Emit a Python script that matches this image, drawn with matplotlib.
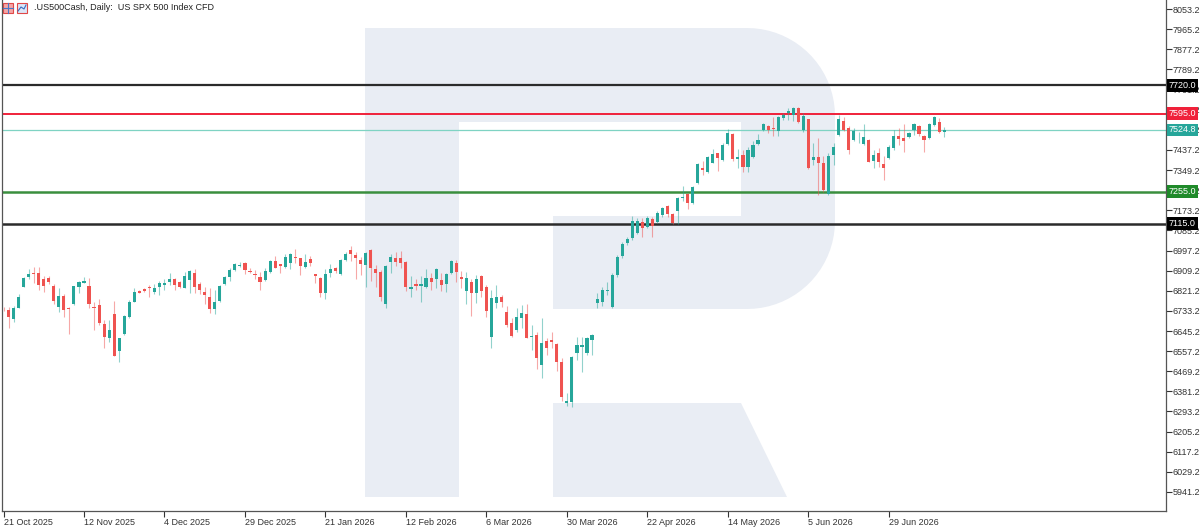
import numpy as np
import matplotlib
matplotlib.use('Agg')
import matplotlib.pyplot as plt
from matplotlib.patches import Polygon, Rectangle
import matplotlib.transforms as mtransforms

plt.rcParams['font.family'] = ['Liberation Sans', 'DejaVu Sans']

# daily candles .US500Cash, 21 Oct 2025 .. mid Jul 2026
opens = [6743, 6737, 6696, 6747, 6839, 6880, 6899, 6898, 6873, 6876,
         6843, 6749, 6798, 6747, 6762, 6839, 6856, 6843, 6752, 6759,
         6675, 6616, 6718, 6559, 6632, 6708, 6773, 6820, 6828, 6838,
         6817, 6836, 6848, 6858, 6873, 6861, 6835, 6868, 6898, 6849,
         6815, 6793, 6741, 6776, 6851, 6883, 6912, 6929, 6944, 6908,
         6896, 6883, 6868, 6902, 6951, 6937, 6924, 6944, 6970, 6963,
         6924, 6959, 6894, 6876, 6813, 6898, 6922, 6893, 6956, 6999,
         6978, 6956, 6934, 6999, 6915, 6905, 6763, 6948, 6963, 6963,
         6948, 6828, 6851, 6842, 6839, 6878, 6873, 6868, 6849, 6900,
         6941, 6883, 6821, 6861, 6813, 6886, 6836, 6620, 6766, 6793,
         6730, 6679, 6650, 6701, 6720, 6620, 6628, 6497, 6602, 6606,
         6588, 6511, 6329, 6333, 6550, 6577, 6547, 6606, 6766, 6773,
         6820, 6752, 6890, 6973, 7031, 7052, 7075, 7123, 7099, 7134,
         7123, 7152, 7192, 7157, 7170, 7228, 7243, 7204, 7294, 7359,
         7342, 7381, 7422, 7393, 7462, 7507, 7396, 7415, 7364, 7406,
         7462, 7524, 7542, 7534, 7520, 7575, 7597, 7590, 7619, 7524,
         7571, 7393, 7404, 7378, 7244, 7415, 7502, 7565, 7535, 7480,
         7510, 7463, 7480, 7390, 7422, 7376, 7400, 7444, 7498, 7488,
         7492, 7524, 7542, 7498, 7488, 7546, 7560, 7514]
highs = [6750, 6752, 6756, 6807, 6883, 6916, 6927, 6927, 6887, 6887,
         6849, 6832, 6806, 6749, 6843, 6864, 6880, 6876, 6773, 6784,
         6693, 6693, 6776, 6616, 6715, 6781, 6832, 6825, 6832, 6846,
         6849, 6864, 6871, 6898, 6876, 6865, 6902, 6912, 6916, 6861,
         6839, 6832, 6825, 6846, 6886, 6919, 6941, 6948, 6946, 6919,
         6912, 6902, 6922, 6956, 6973, 6939, 6982, 6985, 7004, 6965,
         6982, 6973, 6896, 6880, 6915, 6938, 6927, 6959, 6989, 7017,
         6992, 6968, 6992, 7003, 6934, 6912, 6934, 6982, 6992, 6996,
         6951, 6886, 6871, 6886, 6915, 6900, 6922, 6898, 6900, 6956,
         6956, 6908, 6905, 6871, 6890, 6890, 6846, 6825, 6846, 6803,
         6756, 6701, 6745, 6759, 6763, 6671, 6642, 6701, 6613, 6642,
         6592, 6526, 6373, 6535, 6620, 6620, 6620, 6632, 6810, 6839,
         6861, 6898, 6978, 7036, 7058, 7148, 7139, 7139, 7148, 7145,
         7171, 7189, 7196, 7160, 7230, 7278, 7250, 7279, 7379, 7389,
         7410, 7440, 7425, 7466, 7527, 7512, 7440, 7437, 7451, 7477,
         7507, 7556, 7546, 7582, 7585, 7597, 7619, 7623, 7624, 7600,
         7574, 7466, 7488, 7410, 7422, 7466, 7590, 7582, 7542, 7532,
         7514, 7550, 7483, 7437, 7444, 7410, 7458, 7524, 7532, 7550,
         7517, 7556, 7546, 7502, 7553, 7585, 7575, 7539]
lows = [6732, 6657, 6683, 6744, 6836, 6873, 6854, 6825, 6815, 6849,
        6762, 6727, 6708, 6631, 6759, 6813, 6854, 6745, 6650, 6671,
        6570, 6599, 6536, 6508, 6627, 6701, 6771, 6810, 6817, 6793,
        6807, 6803, 6825, 6846, 6825, 6835, 6832, 6810, 6810, 6807,
        6763, 6725, 6720, 6771, 6846, 6865, 6909, 6927, 6893, 6898,
        6871, 6825, 6865, 6898, 6919, 6898, 6919, 6915, 6944, 6890,
        6919, 6929, 6856, 6793, 6785, 6883, 6898, 6890, 6953, 6953,
        6871, 6890, 6839, 6865, 6839, 6778, 6747, 6900, 6929, 6919,
        6821, 6793, 6825, 6773, 6832, 6825, 6832, 6821, 6815, 6894,
        6858, 6832, 6762, 6711, 6766, 6795, 6708, 6570, 6745, 6752,
        6664, 6620, 6642, 6657, 6613, 6562, 6478, 6438, 6540, 6570,
        6472, 6340, 6318, 6314, 6518, 6467, 6540, 6540, 6745, 6755,
        6803, 6745, 6883, 6963, 7021, 7045, 7071, 7055, 7094, 7055,
        7119, 7145, 7145, 7113, 7115, 7214, 7177, 7201, 7288, 7327,
        7337, 7378, 7346, 7390, 7458, 7390, 7357, 7340, 7342, 7400,
        7458, 7521, 7510, 7497, 7498, 7568, 7568, 7565, 7553, 7517,
        7352, 7371, 7240, 7254, 7240, 7371, 7498, 7521, 7419, 7477,
        7466, 7458, 7384, 7357, 7364, 7306, 7396, 7437, 7458, 7429,
        7488, 7502, 7498, 7427, 7483, 7543, 7512, 7495]
closes = [6740, 6705, 6745, 6795, 6878, 6894, 6893, 6846, 6843, 6861,
          6778, 6800, 6737, 6740, 6842, 6858, 6863, 6762, 6745, 6679,
          6620, 6648, 6537, 6613, 6711, 6771, 6817, 6813, 6821, 6832,
          6832, 6856, 6856, 6873, 6846, 6839, 6887, 6908, 6839, 6825,
          6803, 6741, 6773, 6842, 6883, 6912, 6937, 6935, 6912, 6902,
          6889, 6861, 6908, 6951, 6922, 6929, 6970, 6981, 6966, 6929,
          6948, 6941, 6886, 6810, 6893, 6915, 6908, 6956, 6982, 6982,
          6963, 6938, 6985, 6919, 6900, 6795, 6929, 6968, 6946, 6944,
          6836, 6836, 6842, 6849, 6878, 6861, 6916, 6846, 6893, 6953,
          6905, 6873, 6876, 6813, 6873, 6821, 6734, 6788, 6795, 6771,
          6671, 6625, 6708, 6725, 6616, 6625, 6528, 6592, 6570, 6596,
          6511, 6358, 6340, 6530, 6583, 6584, 6613, 6628, 6784, 6825,
          6825, 6890, 6970, 7024, 7046, 7128, 7126, 7094, 7139, 7104,
          7163, 7182, 7155, 7116, 7226, 7232, 7204, 7274, 7374, 7349,
          7405, 7419, 7400, 7458, 7512, 7396, 7407, 7364, 7437, 7458,
          7480, 7550, 7522, 7528, 7580, 7590, 7609, 7619, 7560, 7585,
          7357, 7405, 7378, 7260, 7410, 7451, 7574, 7526, 7437, 7521,
          7512, 7495, 7386, 7415, 7386, 7359, 7451, 7498, 7483, 7477,
          7512, 7550, 7507, 7480, 7550, 7582, 7517, 7524.8]

date_labels = ['21 Oct 2025', '12 Nov 2025', '4 Dec 2025', '29 Dec 2025',
               '21 Jan 2026', '12 Feb 2026', '6 Mar 2026', '30 Mar 2026',
               '22 Apr 2026', '14 May 2026', '5 Jun 2026', '29 Jun 2026']
bars_per_label = 16

levels = [7720.0, 7595.0, 7524.8, 7255.0, 7115.0]
level_colors = ['#2b2b2b', '#f0213a', '#7fd3c3', '#3a8f3e', '#2b2b2b']
level_box = ['#000000', '#f0213a', '#26a69a', '#1f8a2a', '#000000']
level_lw = [1.6, 1.4, 0.9, 1.8, 1.8]

bull = '#26a69a'
bear = '#ef5350'
logo = '#e9edf4'

W, H = 1200, 527
fig = plt.figure(figsize=(W / 100, H / 100), dpi=100)

# background layer in pixel coords: watermark logo + header icons
bg = fig.add_axes([0, 0, 1, 1])
bg.set_xlim(0, W)
bg.set_ylim(H, 0)
bg.axis('off')

bg.add_patch(Rectangle((365, 28), 94, 469, fc=logo, ec='none'))
r = 88
t1 = np.linspace(-np.pi / 2, 0, 20)
t2 = np.linspace(0, np.pi / 2, 20)
bowl = [(459, 28), (747, 28)]
bowl += [(747 + r * np.cos(t), 28 + r + r * np.sin(t)) for t in t1]
bowl += [(747 + r * np.cos(t), 309 - r + r * np.sin(t)) for t in t2]
bowl += [(553, 309), (553, 216), (741, 216), (741, 122), (459, 122)]
bg.add_patch(Polygon(bowl, closed=True, fc=logo, ec='none'))
bg.add_patch(Polygon([(553, 403), (741, 403), (787, 497), (553, 497)],
                     closed=True, fc=logo, ec='none'))

# small header icons
bg.add_patch(Rectangle((3, 3), 10, 10, fc='#f4a6a6', ec='#e04848', lw=0.8))
bg.plot([3, 13], [8, 8], color='#4a78c8', lw=0.8)
bg.plot([8, 8], [3, 13], color='#4a78c8', lw=0.8)
bg.add_patch(Rectangle((17, 3), 10, 10, fc='#dbe6f7', ec='#e04848', lw=0.8))
bg.plot([18, 21, 24, 26], [11, 7, 9, 5], color='#3a6cc0', lw=0.8)
fig.text(34 / W, 1 - 8 / H, '.US500Cash, Daily:  US SPX 500 Index CFD',
         fontsize=6.5, color='#222222', va='center', ha='left')

# main chart
ax = fig.add_axes([2 / W, 16 / H, 1164 / W, 511 / H])
ax.set_zorder(1)
ax.patch.set_alpha(0)

o = np.array(opens, dtype=float)
h = np.array(highs, dtype=float)
l = np.array(lows, dtype=float)
c = np.array(closes, dtype=float)
x = np.arange(len(o))
up = c >= o
cols = np.where(up, bull, bear)

ax.vlines(x, l, h, colors=cols, linewidth=0.8, alpha=0.5, zorder=3)
body_low = np.minimum(o, c)
body_h = np.maximum(np.abs(c - o), 3.0)
ax.bar(x, body_h, bottom=body_low, width=0.62, color=cols, linewidth=0, zorder=4)

for lv, lc, lw in zip(levels, level_colors, level_lw):
    ax.axhline(lv, color=lc, linewidth=lw, zorder=2)

ax.set_xlim(-0.3, 231.1)
ax.set_ylim(5858.1, 8092.6)

ax.yaxis.tick_right()
yt = np.arange(5941.2, 8053.3, 88.0)
ax.set_yticks(yt)
ax.set_yticklabels(['%.1f' % v for v in yt])
ax.set_xticks(np.arange(len(date_labels)) * bars_per_label)
ax.set_xticklabels(date_labels, ha='left')
ax.tick_params(axis='both', direction='out', length=4, width=0.8,
               labelsize=6.5, colors='#333333', pad=1.0)
for s in ['left', 'right', 'bottom']:
    ax.spines[s].set_color('#555555')
    ax.spines[s].set_linewidth(0.9)
ax.spines['top'].set_visible(False)

trans = mtransforms.blended_transform_factory(ax.transAxes, ax.transData)
for lv, bc in zip(levels, level_box):
    ax.text(1.0 + 3 / 1164, lv, '%.1f' % lv, transform=trans, ha='left',
            va='center', fontsize=6.5, color='white', clip_on=False, zorder=10,
            bbox=dict(boxstyle='square,pad=0.2', fc=bc, ec='none'))

fig.savefig('out.png', dpi=100)
